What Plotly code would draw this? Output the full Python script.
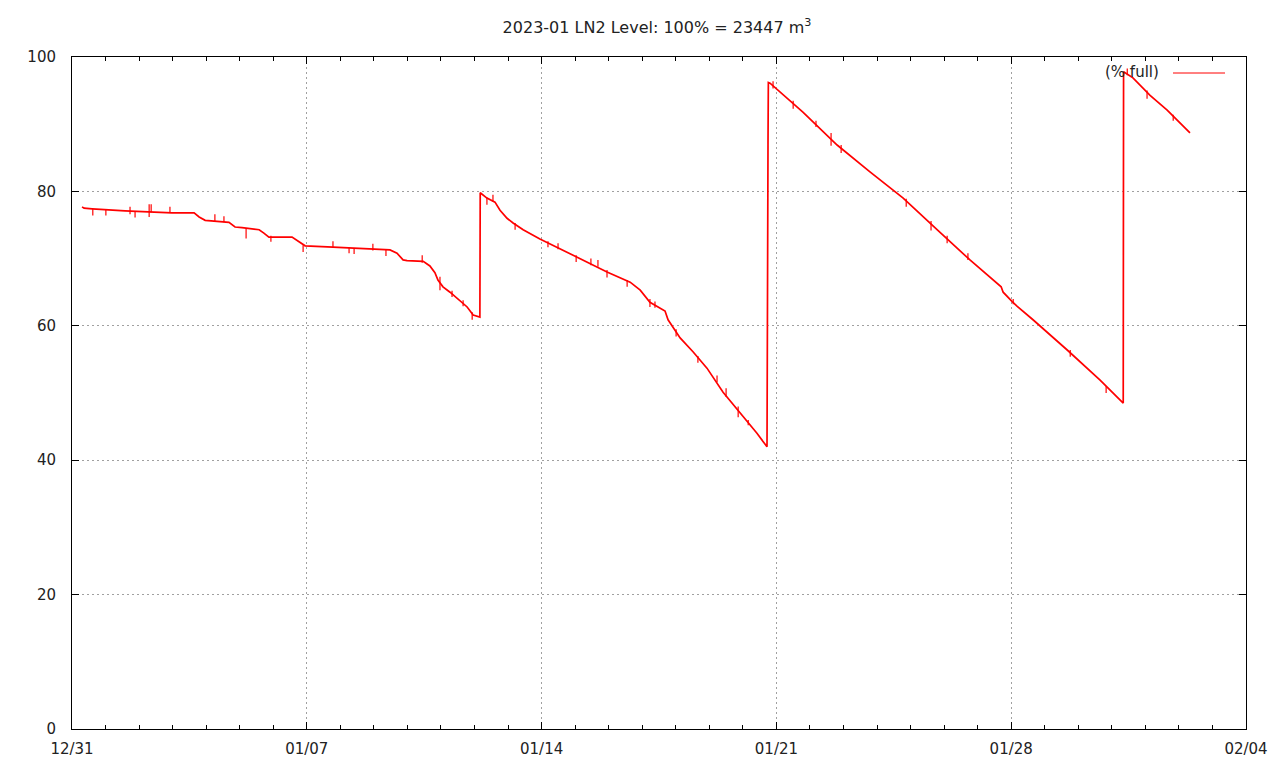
import pandas as pd
import plotly.graph_objects as go

# ---- data (days since 2022-12-31 00:00, % full) ----
start_date = "2022-12-31"
level_days = [0.30, 0.36, 0.60, 1.58, 2.98, 3.64, 3.79, 3.97, 4.68, 4.86, 5.07, 5.58, 5.72, 5.87,
              6.56, 6.77, 6.95, 7.78, 8.80, 9.48, 9.69, 9.87, 9.99, 10.47, 10.67, 10.82, 10.91,
              11.06, 11.27, 11.48, 11.78, 11.96, 12.16, 12.17, 12.37, 12.61, 12.76, 12.97, 13.15,
              13.45, 13.86, 13.95, 14.94, 15.95, 16.64, 16.94, 17.23, 17.68, 17.77, 18.13, 18.52,
              18.93, 19.41, 19.92, 20.42, 20.72, 20.73, 20.75, 20.76, 20.81, 21.79, 22.81, 23.79,
              24.78, 25.79, 26.77, 27.70, 27.76, 28.03, 28.18, 28.65, 29.67, 30.65, 31.34, 31.35,
              31.63, 32.14, 32.65, 33.33]
level_pct = [77.7, 77.5, 77.4, 77.1, 76.8, 76.8, 76.2, 75.7, 75.4, 74.7, 74.6, 74.3, 73.8, 73.2,
             73.2, 72.5, 71.9, 71.7, 71.4, 71.3, 70.8, 69.8, 69.7, 69.6, 68.9, 67.9, 66.8,
             65.8, 65.0, 64.1, 62.8, 61.6, 61.3, 79.8, 79.0, 78.4, 77.2, 76.0, 75.3,
             74.3, 73.2, 72.9, 70.5, 68.0, 66.5, 65.3, 63.5, 62.2, 60.9, 58.2, 56.1,
             53.7, 50.1, 47.0, 44.0, 42.0, 87.2, 87.2, 96.2, 96.1, 91.8, 86.9, 82.9,
             79.0, 74.3, 69.8, 65.8, 65.0, 63.6, 62.9, 60.9, 56.4, 51.9, 48.5, 97.8,
             96.9, 94.3, 92.1, 88.7]

# short-lived readings (glitches): day, high, low
spike_days = [0.62, 1.01, 1.73, 1.88, 2.30, 2.36, 2.92, 4.26, 4.53, 5.19, 5.93, 6.89, 7.78, 8.26,
              8.41, 8.97, 9.36, 10.44, 10.97, 11.33, 11.66, 11.93, 12.37, 12.55, 13.21, 14.19,
              14.49, 15.03, 15.47, 15.68, 15.95, 16.55, 17.23, 17.38, 18.01, 18.66, 19.23, 19.50,
              19.86, 20.16, 20.90, 21.50, 22.18, 22.63, 22.93, 24.87, 25.61, 26.09, 26.71, 28.06,
              29.76, 30.83, 31.46, 32.05, 32.83]
spike_hi = [77.4, 77.3, 77.7, 77.0, 78.1, 78.1, 77.7, 76.6, 76.3, 74.5, 73.4, 72.0, 72.6, 71.6,
            71.5, 72.2, 71.3, 70.5, 67.3, 65.2, 63.8, 62.0, 79.1, 79.5, 75.3, 72.6,
            72.3, 70.5, 70.0, 69.8, 68.3, 66.8, 64.0, 63.6, 59.5, 55.5, 52.6, 50.7,
            48.0, 46.0, 96.4, 93.5, 90.5, 88.7, 86.9, 78.9, 75.6, 73.4, 70.8, 64.0,
            56.4, 51.0, 98.3, 95.0, 91.4]
spike_lo = [76.4, 76.4, 76.6, 76.1, 76.2, 76.9, 76.8, 75.6, 75.4, 73.0, 72.5, 71.0, 71.6, 70.8,
            70.7, 71.2, 70.4, 69.4, 65.3, 64.3, 62.9, 60.9, 78.0, 78.5, 74.3, 71.7,
            71.4, 69.5, 69.0, 68.8, 67.2, 65.8, 62.8, 62.7, 58.4, 54.5, 51.6, 49.4,
            46.4, 45.2, 95.3, 92.3, 89.6, 86.8, 85.7, 77.7, 74.2, 72.3, 69.8, 63.2,
            55.4, 50.0, 97.3, 93.8, 90.5]

title_text = "2023-01 LN2 Level: 100% = 23447 m<sup>3</sup>"
legend_label = "(% full)"

# ---- build ----
t0 = pd.Timestamp(start_date)
to_time = lambda d: t0 + pd.to_timedelta(d, unit="D")

x_main = [to_time(d) for d in level_days]

sx, sy = [], []
for d, hi, lo in zip(spike_days, spike_hi, spike_lo):
    t = to_time(d)
    sx += [t, t, None]
    sy += [hi, lo, None]

RED = "#ff0000"
fig = go.Figure()
fig.add_trace(go.Scatter(x=x_main, y=level_pct, mode="lines",
                         line=dict(color=RED, width=1.7), showlegend=False,
                         name=legend_label))
fig.add_trace(go.Scatter(x=sx, y=sy, mode="lines",
                         line=dict(color=RED, width=1.2), showlegend=False,
                         connectgaps=False))

FONT = "DejaVu Sans"
axis_common = dict(showline=True, linecolor="black", linewidth=1, mirror="ticks",
                   ticks="inside", tickcolor="black", zeroline=False, automargin=False,
                   showgrid=True, gridcolor="#a0a0a0", griddash="2px,3px", gridwidth=1,
                   tickfont=dict(family=FONT, size=15, color="#222"))

fig.update_xaxes(**axis_common, type="date",
                 range=[to_time(0), to_time(35)],
                 tick0=start_date, dtick=7 * 86400000, tickformat="%m/%d",
                 ticklen=7, ticklabelstandoff=6,
                 minor=dict(dtick=86400000, tick0=start_date, ticks="inside",
                            ticklen=4, tickcolor="black", showgrid=False))
fig.update_yaxes(**axis_common, range=[0, 100], dtick=20, ticklen=7,
                 ticklabelstandoff=12)

# page body has an 8px margin; figure is sized so the plot area lands where the reference has it
W, H = 1264, 752
ML, MR, MT, MB = 64, 26, 49, 31
PW, PH = W - ML - MR, H - MT - MB

def px_x(px):  # page pixel -> paper x
    return (px - 8 - ML) / PW

def px_y(py):  # page pixel -> paper y
    return 1 - (py - 8 - MT) / PH

fig.add_annotation(text=legend_label, xref="paper", yref="paper",
                   x=px_x(1161), y=px_y(72),
                   xanchor="right", yanchor="middle", showarrow=False,
                   font=dict(family=FONT, size=15, color="#222"))
fig.add_shape(type="line", xref="paper", yref="paper",
              x0=px_x(1173), x1=px_x(1225), y0=px_y(73), y1=px_y(73),
              line=dict(color=RED, width=1))

fig.update_layout(
    width=W, height=H,
    margin=dict(l=ML, r=MR, t=MT, b=MB),
    paper_bgcolor="white", plot_bgcolor="white",
    title=dict(text=title_text, x=(657 - 8) / W, xanchor="center", y=1 - (27 - 8) / H,
               yanchor="middle", font=dict(family=FONT, size=16, color="#222")),
)

fig.write_html("out.html")
